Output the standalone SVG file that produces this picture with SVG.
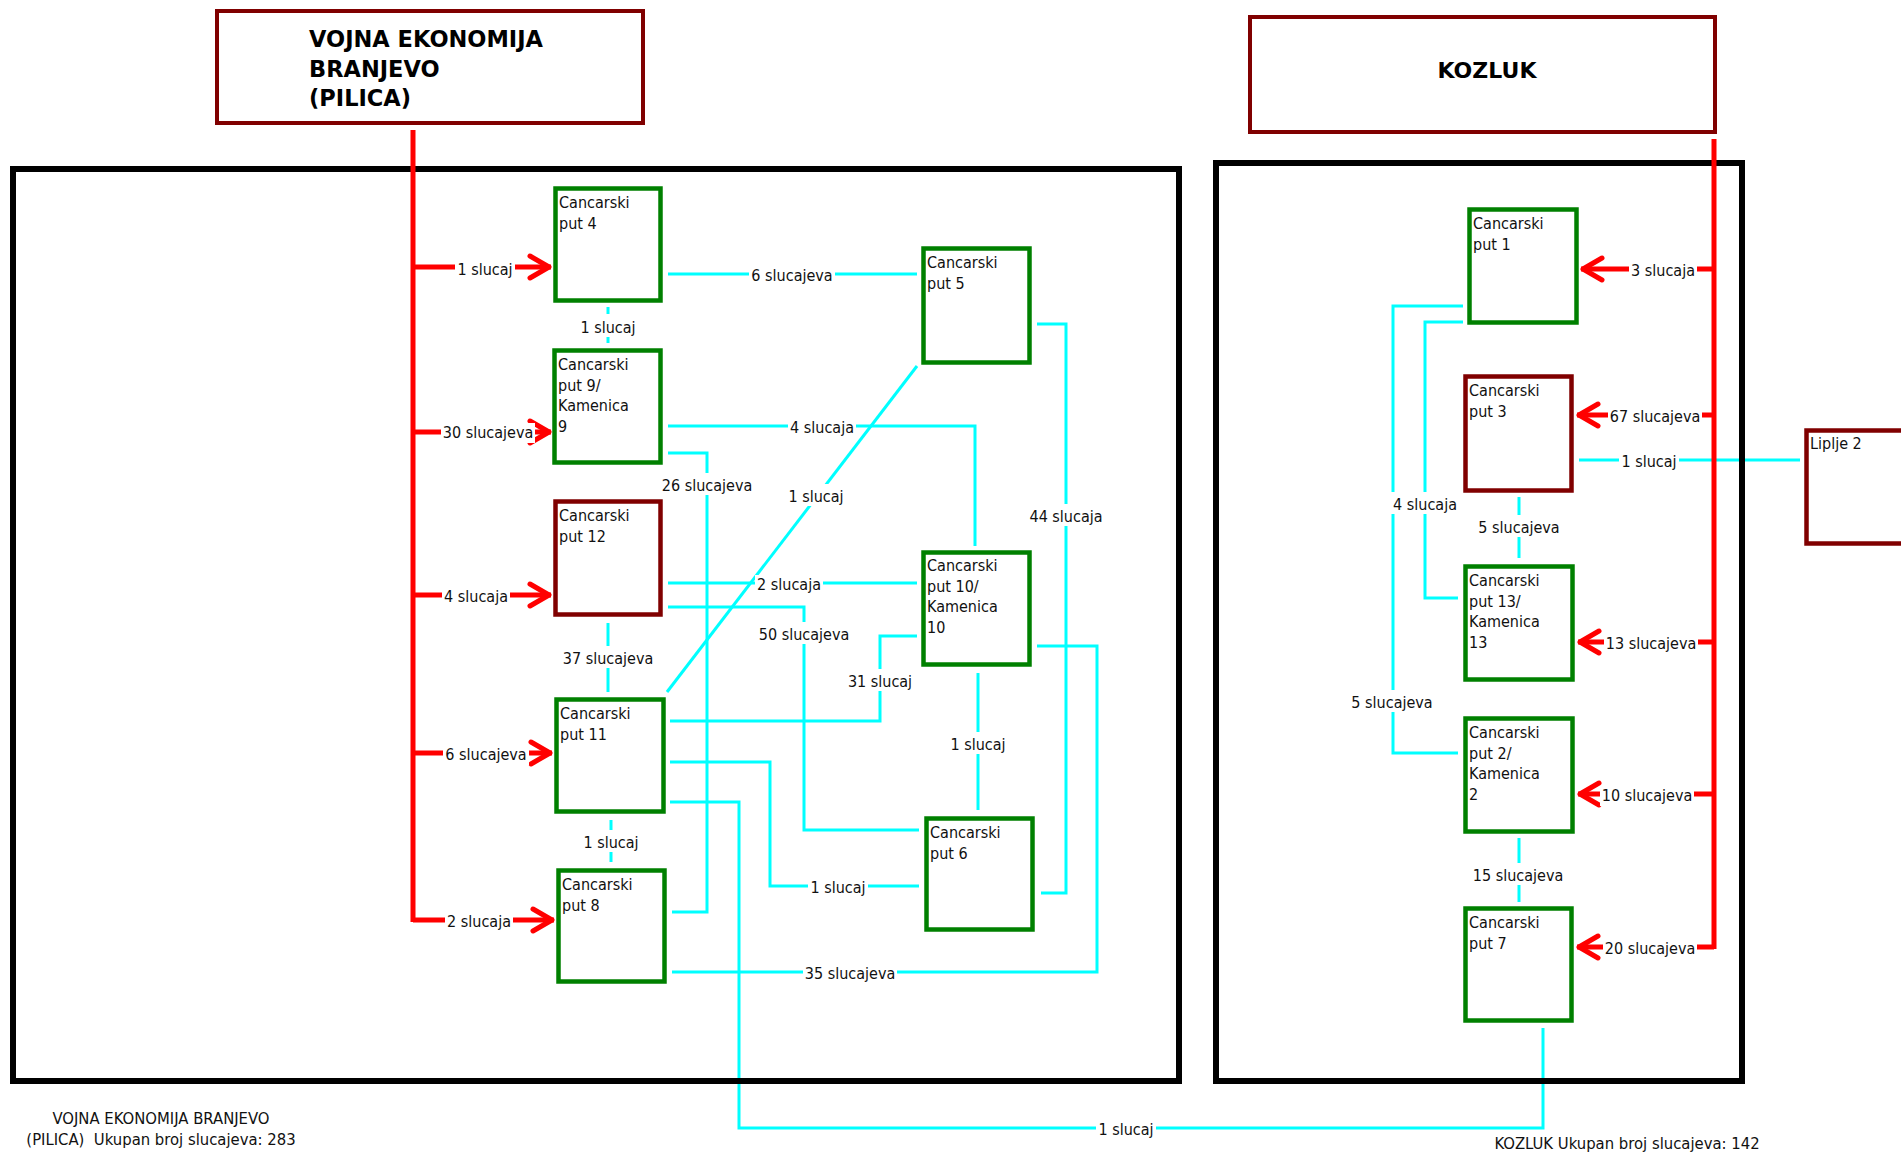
<svg xmlns="http://www.w3.org/2000/svg" width="1901" height="1152" viewBox="0 0 1901 1152">
<style>
.t{font-family:'DejaVu Sans Condensed','DejaVu Sans',sans-serif;font-stretch:condensed;font-size:16px;fill:#111}
.l{font-family:'DejaVu Sans Condensed','DejaVu Sans',sans-serif;font-stretch:condensed;font-size:16px;fill:#111;text-anchor:middle}
.f{font-family:'DejaVu Sans Condensed','DejaVu Sans',sans-serif;font-stretch:condensed;font-size:16.5px;fill:#111;text-anchor:middle}
.h{font-family:'DejaVu Sans',sans-serif;font-weight:bold;font-size:22.5px;fill:#000}
.k{font-family:'DejaVu Sans',sans-serif;font-weight:bold;font-size:22px;fill:#000}
.g{fill:#fff;stroke:#008000;stroke-width:4.5}
.r{fill:#fff;stroke:#800000;stroke-width:4.5}
.hd{fill:#fff;stroke:#800000;stroke-width:4}
.fr{fill:none;stroke:#000;stroke-width:6}
.c{fill:none;stroke:#00ffff;stroke-width:3}
.rd{fill:none;stroke:#ff0000;stroke-width:5}
.ra{fill:none;stroke:#ff0000;stroke-width:5;marker-end:url(#ah)}
.bg{fill:#fff}
</style>
<defs>
<marker id="ah" markerUnits="userSpaceOnUse" viewBox="-26 -16 30 32" markerWidth="30" markerHeight="32" refX="0" refY="0" orient="auto">
<path d="M-21,-11 L-2,0 L-21,11" fill="none" stroke="#ff0000" stroke-width="5" stroke-linecap="round" stroke-linejoin="round"/>
</marker>
</defs>
<rect width="1901" height="1152" fill="#fff"/>

<g id="connectors">
<g id="cyan">
<path class="c" d="M668,274 H917"/>
<path class="c" d="M608,307 V343"/>
<path class="c" d="M668,426 H975 V546"/>
<path class="c" d="M668,453 H707 V912 H672"/>
<path class="c" d="M668,583 H917"/>
<path class="c" d="M668,607 H804 V830 H919"/>
<path class="c" d="M670,721 H880 V636 H917"/>
<path class="c" d="M670,762 H770 V886 H919"/>
<path class="c" d="M670,802 H739 V1128 H1543 V1028"/>
<path class="c" d="M608,623 V692"/>
<path class="c" d="M667,692 L917,366"/>
<path class="c" d="M611,820 V862"/>
<path class="c" d="M1037,324 H1066 V893 H1041"/>
<path class="c" d="M1037,646 H1097 V972 H672"/>
<path class="c" d="M978,673 V810"/>
<path class="c" d="M1463,306 H1393 V753 H1458"/>
<path class="c" d="M1463,322 H1425 V598 H1458"/>
<path class="c" d="M1519,497 V558"/>
<path class="c" d="M1579,460 H1800"/>
<path class="c" d="M1519,838 V902"/>
</g>
</g>

<g id="frames">
<rect class="fr" x="13" y="169" width="1166" height="912"/>
<rect class="fr" x="1216" y="163" width="526" height="918"/>
</g>

<g id="red-connectors">
<path class="rd" d="M413,130 V922"/>
<path class="ra" d="M413,267 H551"/>
<path class="ra" d="M413,432 H551"/>
<path class="ra" d="M413,595 H551"/>
<path class="ra" d="M413,753 H552"/>
<path class="ra" d="M413,920 H554"/>
<path class="rd" d="M1714,139 V949"/>
<path class="ra" d="M1714,269 H1581"/>
<path class="ra" d="M1714,415 H1577"/>
<path class="ra" d="M1714,642 H1578"/>
<path class="ra" d="M1714,794 H1578"/>
<path class="ra" d="M1714,947 H1577"/>
</g>

<g id="labels">
<rect class="bg" x="455" y="259" width="60" height="20"/><text class="l" x="485" y="275">1 slucaj</text>
<rect class="bg" x="441" y="423" width="94" height="20"/><text class="l" x="488" y="438">30 slucajeva</text>
<rect class="bg" x="442" y="587" width="68" height="20"/><text class="l" x="476" y="602">4 slucaja</text>
<rect class="bg" x="443" y="745" width="86" height="20"/><text class="l" x="486" y="760">6 slucajeva</text>
<rect class="bg" x="445" y="912" width="68" height="20"/><text class="l" x="479" y="927">2 slucaja</text>
<rect class="bg" x="1629" y="261" width="68" height="20"/><text class="l" x="1663" y="276">3 slucaja</text>
<rect class="bg" x="1608" y="407" width="94" height="20"/><text class="l" x="1655" y="422">67 slucajeva</text>
<rect class="bg" x="1604" y="634" width="94" height="20"/><text class="l" x="1651" y="649">13 slucajeva</text>
<rect class="bg" x="1600" y="786" width="94" height="20"/><text class="l" x="1647" y="801">10 slucajeva</text>
<rect class="bg" x="1603" y="939" width="94" height="20"/><text class="l" x="1650" y="954">20 slucajeva</text>

<rect class="bg" x="749" y="266" width="86" height="20"/><text class="l" x="792" y="281">6 slucajeva</text>
<rect class="bg" x="578" y="314" width="60" height="23"/><text class="l" x="608" y="333">1 slucaj</text>
<rect class="bg" x="788" y="418" width="68" height="20"/><text class="l" x="822" y="433">4 slucaja</text>
<rect class="bg" x="660" y="473" width="94" height="22"/><text class="l" x="707" y="491">26 slucajeva</text>
<rect class="bg" x="755" y="575" width="68" height="20"/><text class="l" x="789" y="590">2 slucaja</text>
<rect class="bg" x="757" y="622" width="94" height="22"/><text class="l" x="804" y="640">50 slucajeva</text>
<rect class="bg" x="846" y="669" width="68" height="22"/><text class="l" x="880" y="687">31 slucaj</text>
<rect class="bg" x="786" y="484" width="60" height="22"/><text class="l" x="816" y="502">1 slucaj</text>
<rect class="bg" x="561" y="646" width="94" height="22"/><text class="l" x="608" y="664">37 slucajeva</text>
<rect class="bg" x="581" y="830" width="60" height="22"/><text class="l" x="611" y="848">1 slucaj</text>
<rect class="bg" x="808" y="878" width="60" height="20"/><text class="l" x="838" y="893">1 slucaj</text>
<rect class="bg" x="1032" y="504" width="68" height="22"/><text class="l" x="1066" y="522">44 slucaja</text>
<rect class="bg" x="803" y="964" width="94" height="20"/><text class="l" x="850" y="979">35 slucajeva</text>
<rect class="bg" x="948" y="732" width="60" height="22"/><text class="l" x="978" y="750">1 slucaj</text>
<rect class="bg" x="1096" y="1120" width="60" height="20"/><text class="l" x="1126" y="1135">1 slucaj</text>
<rect class="bg" x="1391" y="492" width="68" height="22"/><text class="l" x="1425" y="510">4 slucaja</text>
<rect class="bg" x="1349" y="690" width="86" height="22"/><text class="l" x="1392" y="708">5 slucajeva</text>
<rect class="bg" x="1476" y="515" width="86" height="22"/><text class="l" x="1519" y="533">5 slucajeva</text>
<rect class="bg" x="1619" y="452" width="60" height="20"/><text class="l" x="1649" y="467">1 slucaj</text>
<rect class="bg" x="1471" y="863" width="94" height="22"/><text class="l" x="1518" y="881">15 slucajeva</text>
</g>

<g id="vojna-header">
<rect class="hd" x="217" y="11" width="426" height="112"/>
<text class="h" x="309" y="47">VOJNA EKONOMIJA</text>
<text class="h" x="309" y="77">BRANJEVO</text>
<text class="h" x="309" y="106">(PILICA)</text>
</g>
<g id="kozluk-header">
<rect class="hd" x="1250" y="17" width="465" height="115"/>
<text class="k" x="1487" y="78" text-anchor="middle">KOZLUK</text>
</g>

<g id="cp4"><rect class="g" x="555.5" y="188.5" width="105" height="112"/><text class="t" x="559" y="208">Cancarski</text><text class="t" x="559" y="229">put 4</text></g>
<g id="cp9"><rect class="g" x="554.5" y="350.5" width="106" height="112"/><text class="t" x="558" y="370">Cancarski</text><text class="t" x="558" y="391">put 9/</text><text class="t" x="558" y="411">Kamenica</text><text class="t" x="558" y="432">9</text></g>
<g id="cp12"><rect class="r" x="555.5" y="501.5" width="105" height="113"/><text class="t" x="559" y="521">Cancarski</text><text class="t" x="559" y="542">put 12</text></g>
<g id="cp11"><rect class="g" x="556.5" y="699.5" width="107" height="112"/><text class="t" x="560" y="719">Cancarski</text><text class="t" x="560" y="740">put 11</text></g>
<g id="cp8"><rect class="g" x="558.5" y="870.5" width="106" height="111"/><text class="t" x="562" y="890">Cancarski</text><text class="t" x="562" y="911">put 8</text></g>
<g id="cp5"><rect class="g" x="923.5" y="248.5" width="106" height="114"/><text class="t" x="927" y="268">Cancarski</text><text class="t" x="927" y="289">put 5</text></g>
<g id="cp10"><rect class="g" x="923.5" y="552.5" width="106" height="112"/><text class="t" x="927" y="571">Cancarski</text><text class="t" x="927" y="592">put 10/</text><text class="t" x="927" y="612">Kamenica</text><text class="t" x="927" y="633">10</text></g>
<g id="cp6"><rect class="g" x="926.5" y="818.5" width="106" height="111"/><text class="t" x="930" y="838">Cancarski</text><text class="t" x="930" y="859">put 6</text></g>

<g id="cp1"><rect class="g" x="1469.5" y="209.5" width="107" height="113"/><text class="t" x="1473" y="229">Cancarski</text><text class="t" x="1473" y="250">put 1</text></g>
<g id="cp3"><rect class="r" x="1465.5" y="376.5" width="106" height="114"/><text class="t" x="1469" y="396">Cancarski</text><text class="t" x="1469" y="417">put 3</text></g>
<g id="cp13"><rect class="g" x="1465.5" y="566.5" width="107" height="113"/><text class="t" x="1469" y="586">Cancarski</text><text class="t" x="1469" y="607">put 13/</text><text class="t" x="1469" y="627">Kamenica</text><text class="t" x="1469" y="648">13</text></g>
<g id="cp2"><rect class="g" x="1465.5" y="718.5" width="107" height="113"/><text class="t" x="1469" y="738">Cancarski</text><text class="t" x="1469" y="759">put 2/</text><text class="t" x="1469" y="779">Kamenica</text><text class="t" x="1469" y="800">2</text></g>
<g id="cp7"><rect class="g" x="1465.5" y="908.5" width="106" height="112"/><text class="t" x="1469" y="928">Cancarski</text><text class="t" x="1469" y="949">put 7</text></g>
<g id="liplje2"><rect class="r" x="1806.5" y="430.5" width="120" height="113"/><text class="t" x="1810" y="449">Liplje 2</text></g>

<g id="footer">
<text class="f" x="161" y="1124">VOJNA EKONOMIJA BRANJEVO</text>
<text class="f" x="161" y="1145" xml:space="preserve">(PILICA)  Ukupan broj slucajeva: 283</text>
<text class="f" x="1627" y="1149">KOZLUK Ukupan broj slucajeva: 142</text>
</g>
</svg>
